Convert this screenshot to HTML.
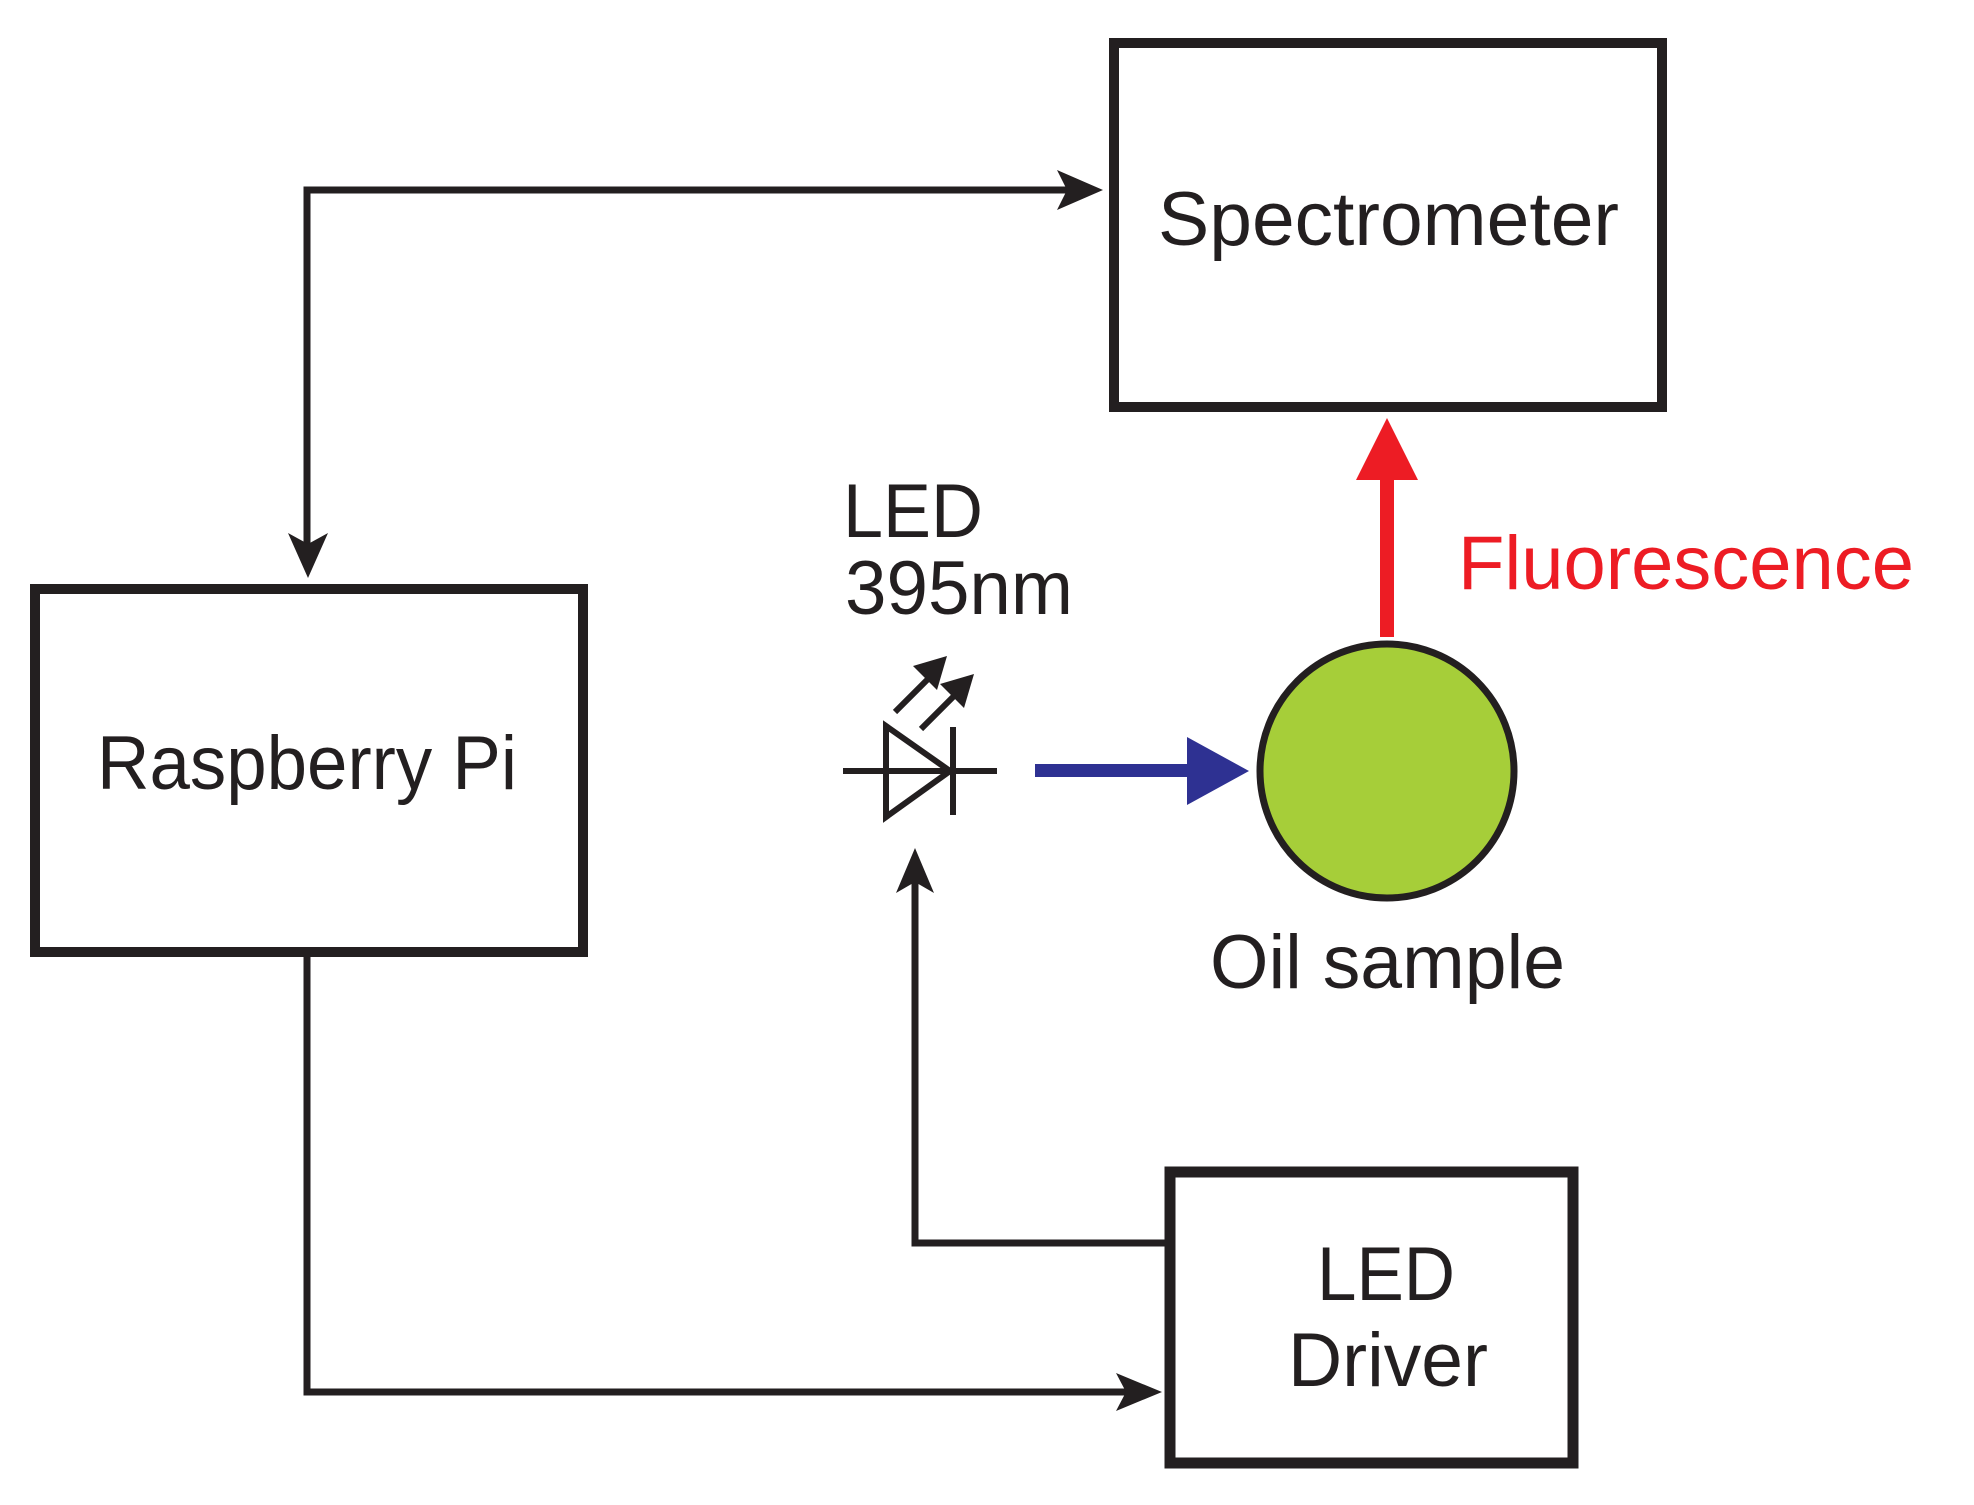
<!DOCTYPE html>
<html><head><meta charset="utf-8"><style>html,body{margin:0;padding:0;background:#fff}svg{display:block}</style></head>
<body>
<svg width="1974" height="1505" viewBox="0 0 1974 1505" xmlns="http://www.w3.org/2000/svg" font-family="'Liberation Sans', Arial, sans-serif">
<g fill="none" stroke="#231f20">
<rect x="1114" y="43" width="548" height="364" stroke-width="10"/>
<rect x="35" y="589" width="548" height="363" stroke-width="10"/>
<rect x="1170" y="1172" width="403" height="291" stroke-width="11"/>
<polyline points="307,550 307,190 1070,190" stroke-width="7"/>
<polyline points="307,957 307,1392 1130,1392" stroke-width="7"/>
<polyline points="1165,1243 915,1243 915,880" stroke-width="7"/>
<line x1="843" y1="771" x2="997" y2="771" stroke-width="6"/>
<polygon points="886,726 886,817 950,771" stroke-width="6"/>
<line x1="953" y1="727" x2="953" y2="815" stroke-width="6"/>
<line x1="895" y1="712" x2="935" y2="672" stroke-width="6"/>
<line x1="921" y1="729" x2="961" y2="689" stroke-width="6"/>
</g>
<g fill="#231f20">
<polygon points="1103,190 1057,170 1067,190 1057,210"/>
<polygon points="308,578 288,533 308,544 328,533"/>
<polygon points="1162,1392 1116,1373 1126,1392 1116,1411"/>
<polygon points="915,848 896,893 915,882 934,893"/>
<polygon points="947,656 913,666 937,690"/>
<polygon points="974,674 940,684 964,708"/>
</g>
<rect x="1035" y="764" width="155" height="13" fill="#2e3192"/>
<polygon points="1249,771 1187,737 1187,805" fill="#2e3192"/>
<rect x="1380" y="476" width="14" height="161" fill="#ed1c24"/>
<polygon points="1387,418 1356,480 1418,480" fill="#ed1c24"/>
<circle cx="1387" cy="771" r="127" fill="#a6ce39" stroke="#231f20" stroke-width="7"/>
<g fill="#231f20" font-size="76">
<text x="1158" y="245" textLength="461" lengthAdjust="spacingAndGlyphs">Spectrometer</text>
<text x="97" y="789" textLength="420" lengthAdjust="spacingAndGlyphs">Raspberry Pi</text>
<text x="1317" y="1300" textLength="138" lengthAdjust="spacingAndGlyphs">LED</text>
<text x="1288" y="1386" textLength="200" lengthAdjust="spacingAndGlyphs">Driver</text>
<text x="1210" y="988" textLength="355" lengthAdjust="spacingAndGlyphs">Oil sample</text>
<text x="843" y="537" textLength="140" lengthAdjust="spacingAndGlyphs">LED</text>
<text x="845" y="614" textLength="228" lengthAdjust="spacingAndGlyphs">395nm</text>
</g>
<text x="1458" y="589" font-size="76" fill="#ed1c24" textLength="456" lengthAdjust="spacingAndGlyphs">Fluorescence</text>
</svg>
</body></html>
